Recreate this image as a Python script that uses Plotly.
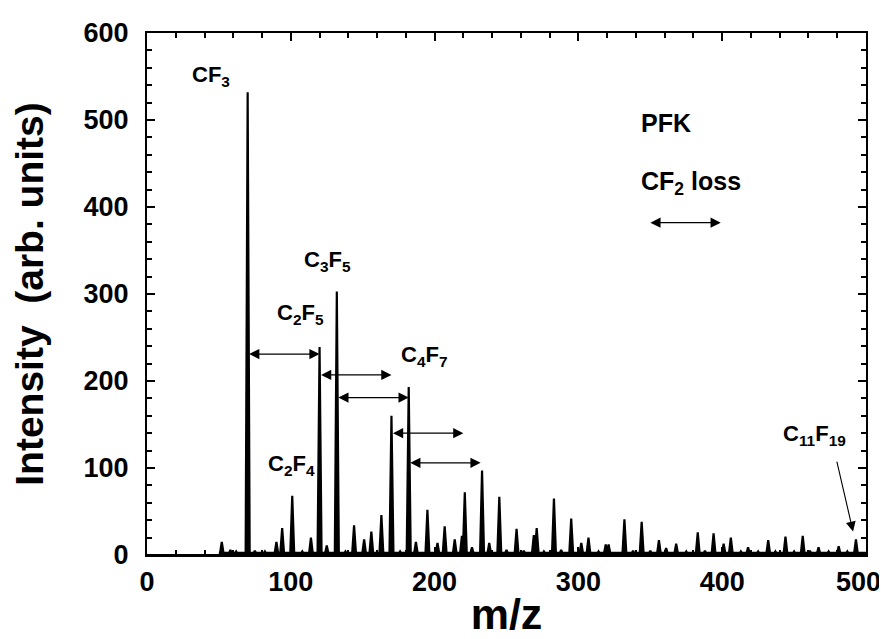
import plotly.graph_objects as go

# Peak positions (m/z) and intensities
peak_mz = [52, 58, 62, 70, 75, 82, 90, 94, 101, 108, 114, 120, 125, 132, 138, 144, 151, 156, 163,
           170, 176, 182, 187, 195, 202, 207, 214, 219, 221, 226, 233, 238, 245, 250, 257, 262,
           269, 271, 276, 283, 288, 295, 302, 307, 314, 319, 321, 332, 338, 344, 350, 356, 361,
           368, 375, 383, 388, 394, 401, 406, 413, 418, 425, 432, 437, 444, 450, 456, 461, 467,
           474, 481, 487, 493]
peak_int = [15, 6, 4, 532, 5, 4, 15, 31, 68, 4, 20, 239, 11, 303, 4, 34, 18, 27, 46,
            160, 4, 193, 15, 52, 14, 33, 18, 22, 72, 9, 97, 14, 67, 6, 30, 5,
            23, 31, 4, 65, 6, 42, 14, 20, 4, 12, 12, 41, 5, 38, 5, 17, 8,
            13, 4, 26, 5, 25, 13, 20, 4, 9, 4, 17, 4, 21, 4, 22, 5, 9,
            4, 10, 4, 18]

# Fragment labels: text and position (m/z, intensity)
label_text = ["CF<sub>3</sub>", "C<sub>3</sub>F<sub>5</sub>", "C<sub>2</sub>F<sub>5</sub>",
              "C<sub>4</sub>F<sub>7</sub>", "C<sub>2</sub>F<sub>4</sub>", "C<sub>11</sub>F<sub>19</sub>"]
label_x = [30, 108, 89, 175, 83, 441]
label_y = [551, 338, 277, 229, 103, 138]

# CF2-loss arrows: start m/z, end m/z, intensity level
arrow_x0 = [70, 120, 132, 170, 182]
arrow_x1 = [120, 170, 182, 220, 232]
arrow_y = [231, 207, 181, 140, 106]

x_tick_vals = [0, 100, 200, 300, 400, 500]
x_tick_text = ["0", "100", "200", "300", "400", "500\u00a0\u00a0"]
y_tick_vals = [0, 100, 200, 300, 400, 500, 600]

# Build profile line from peaks
hw = 1.4
xs, ys = [0], [0]
for m, h in zip(peak_mz, peak_int):
    xs += [m - hw, m, m + hw]
    ys += [0, h, 0]
xs.append(500)
ys.append(0)

fig = go.Figure()
fig.add_trace(go.Scatter(x=xs, y=ys, mode="lines", line=dict(color="black", width=2.2),
                         fill="tozeroy", fillcolor="black", hoverinfo="skip"))
# baseline
fig.add_trace(go.Scatter(x=[50, 500], y=[2, 2], mode="lines",
                         line=dict(color="black", width=3), hoverinfo="skip"))

bold = dict(family="Liberation Sans, Arial, sans-serif", color="black", weight="bold")

for t, x, y in zip(label_text, label_x, label_y):
    fig.add_annotation(x=x, y=y, text=t, showarrow=False, xanchor="left", yanchor="middle",
                       font=dict(size=22, **bold))

fig.add_annotation(x=342, y=496, text="PFK", showarrow=False, xanchor="left", yanchor="middle",
                   font=dict(size=25, **bold))
fig.add_annotation(x=342, y=428, text="CF<sub>2</sub> loss", showarrow=False,
                   xanchor="left", yanchor="middle", font=dict(size=25, **bold))

arrow_style = dict(showarrow=True, arrowhead=2, startarrowhead=2, arrowside="end+start",
                   arrowsize=1.7, startarrowsize=1.7, arrowwidth=1.2, arrowcolor="black",
                   standoff=0, startstandoff=0, text="", axref="x", ayref="y", xref="x", yref="y")
for x0, x1, y in zip(arrow_x0, arrow_x1, arrow_y):
    fig.add_annotation(x=x1, y=y, ax=x0, ay=y, **arrow_style)
# legend arrow
fig.add_annotation(x=399, y=382, ax=349, ay=382, **arrow_style)

# C11F19 pointer arrow
fig.add_annotation(x=491, y=27, ax=479.5, ay=109, showarrow=True, arrowhead=2,
                   arrowsize=1.8, arrowwidth=1.1, arrowcolor="black", text="",
                   axref="x", ayref="y", xref="x", yref="y", standoff=0)

axis_common = dict(showline=True, linewidth=2, linecolor="black", mirror="ticks",
                   ticks="inside", ticklen=8, tickwidth=2, tickcolor="black",
                   showgrid=False, zeroline=False, automargin=False,
                   ticklabeloverflow="allow",
                   tickfont=dict(size=27, **bold))

fig.update_xaxes(range=[0, 500], tickvals=x_tick_vals, ticktext=x_tick_text, ticklabelstandoff=2,
                 minor=dict(dtick=20, ticks="inside", ticklen=5, tickwidth=2, tickcolor="black"),
                 title=dict(text="m/z", font=dict(size=43, **bold), standoff=2),
                 **axis_common)
fig.update_yaxes(range=[0, 600], tickvals=y_tick_vals, ticklabelstandoff=11,
                 minor=dict(dtick=20, ticks="inside", ticklen=5, tickwidth=2, tickcolor="black"),
                 title=dict(text="Intensity  (arb. units)", font=dict(size=39, **bold), standoff=30),
                 **axis_common)

# page body has an 8px default margin, so the figure is 8px smaller on each axis
fig.update_layout(width=879, height=631, showlegend=False,
                  paper_bgcolor="white", plot_bgcolor="white",
                  margin=dict(l=139, r=21, t=25, b=84))

fig.write_html("out.html")
